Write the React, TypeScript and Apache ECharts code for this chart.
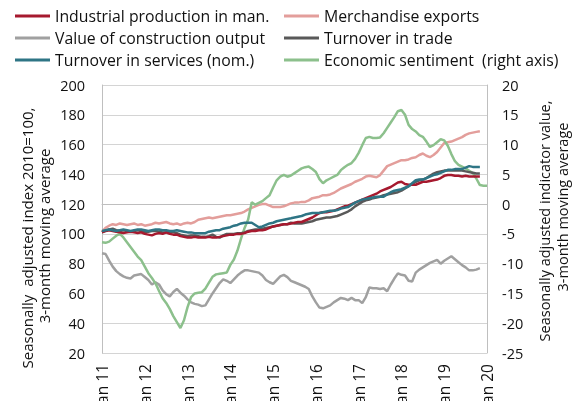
import React, { useEffect, useRef } from "react";
import * as echarts from "echarts";

const monthNames = ["Jan", "Feb", "Mar", "Apr", "May", "Jun", "Jul", "Aug", "Sep", "Oct", "Nov", "Dec"];
const years = ["11", "12", "13", "14", "15", "16", "17", "18", "19", "20"];

const industrial = [
  101, 102, 102.5, 102, 101.5, 101, 100.5, 101, 101.5, 101, 100.5, 101,
  100, 99.5, 99, 100, 100.5, 100, 101, 100, 99.5, 99.5, 98.5, 98,
  97.5, 97.5, 98, 97.5, 97.5, 97.5, 98, 97.5, 97.5, 98, 98.5, 99,
  99.5, 99.5, 100, 100, 100.5, 101.5, 102, 102, 102.5, 102.5, 103, 104,
  105, 105.5, 106, 106.5, 106.5, 107, 107.5, 108, 108, 109, 110, 111,
  112.5, 114, 114.5, 114.5, 115, 115.5, 116.5, 117.5, 118.5, 119, 120, 121,
  122, 123, 124, 125, 126, 127, 128.5, 129.5, 130.5, 131.5, 133, 134.5,
  135, 133.5, 133, 133, 133, 134, 135, 135, 135.5, 136, 136.5, 137.5,
  139, 139.5, 139.5, 139, 139, 138.5, 139, 138.5, 138.5, 138.5, 138.5,
];

const exportsIdx = [
  101.5, 104, 105.5, 106.5, 106, 107, 106.5, 106, 106.5, 107, 106, 106.5,
  105.5, 106, 106.5, 107.5, 107, 107.5, 108, 107, 106.5, 107, 106, 107,
  107.5, 107, 108, 109.5, 110, 110.5, 111, 110.5, 111, 111.5, 112, 112.5,
  112.5, 113, 113.5, 114, 115, 116.5, 117.5, 118.5, 119.5, 120, 120, 119,
  118, 118, 118, 118.5, 119.5, 120.5, 121, 121, 121.5, 121.5, 122.5, 124,
  124.5, 125, 126, 126, 126.5, 127.5, 129, 130.5, 131.5, 132.5, 133.5, 135,
  136, 137, 138.5, 139, 138.5, 138, 139.5, 142.5, 145.5, 146.5, 147.5, 148.5,
  149.5, 149.5, 150, 151, 151.5, 153, 154, 152.5, 151.5, 153, 155, 158,
  161, 161.5, 162, 163, 164, 165, 166.5, 167.5, 168, 168.5, 169,
];

const construction = [
  87, 86.5, 82, 78, 75, 73, 71.5, 70.5, 70, 72, 72.5, 73,
  71, 69, 66, 67.5, 66, 62, 59.5, 58, 61, 63, 60.5, 58.5,
  56, 54, 53, 52.5, 51.5, 52, 56, 60, 63.5, 67, 69.5, 68.5,
  67, 69.5, 72, 74, 75.5, 75.5, 75, 74.5, 74, 72, 69, 67.5,
  66.5, 69, 71.5, 72.5, 71, 68.5, 67.5, 66.5, 65.5, 64.5, 63, 58,
  54, 50.5, 50, 51, 52, 54, 55.5, 57, 56.5, 55.5, 57, 55.5,
  55.5, 53.5, 57.5, 64, 63.5, 63.5, 63, 63.5, 61.5, 66, 70, 73.5,
  72.5, 72, 68.5, 68, 74, 76, 77.5, 79, 80.5, 81.5, 82.5, 80,
  82, 83.5, 85, 83, 81, 79, 77.5, 75.5, 75.5, 76, 77,
];

const trade = [
  101, 102, 103, 103.5, 102.5, 102, 102.5, 102, 101.5, 102, 102.5, 102,
  101.5, 101.5, 102, 102, 101.5, 101, 101, 101.5, 101, 100.5, 99.5, 99,
  98.5, 99, 99, 98.5, 98, 98, 98.5, 99.5, 98, 97.5, 99, 100,
  100, 100, 100.5, 100.5, 101, 102, 102.5, 103, 103, 103.5, 104, 104.5,
  105, 105.5, 106, 106.5, 106.5, 107.5, 107, 107, 107, 107.5, 108, 108.5,
  109.5, 110, 110.5, 111, 111, 111.5, 112, 113, 114, 115, 116.5, 118.5,
  120, 121.5, 122.5, 123, 124, 124.5, 125, 126, 126.5, 127, 127.5, 128,
  129, 130.5, 132, 133.5, 135, 136, 136.5, 137.5, 139, 140.5, 141.5, 142,
  142.5, 142.5, 142.5, 142.5, 142.5, 142.5, 142, 141.5, 141, 140.5, 140.5,
];

const services = [
  102, 102.5, 103, 102.5, 102, 102.5, 103, 102.5, 102, 102.5, 103, 103,
  102.5, 102, 102.5, 103, 103, 102.5, 102.5, 102, 102, 102.5, 102, 101.5,
  101, 101, 100.5, 100.5, 100.5, 100.5, 101.5, 102, 102.5, 102.5, 103.5, 104,
  104.5, 105.5, 106, 107, 107.5, 107.5, 107.5, 106, 104.5, 105, 106, 107,
  107.5, 108.5, 109, 109.5, 110, 110.5, 111, 111.5, 112, 113, 113.5, 114,
  114, 114, 114.5, 115, 115.5, 115.5, 116, 117, 117.5, 118, 119.5, 121,
  122, 123, 123.5, 124, 124.5, 125, 125, 125, 126.5, 128, 129, 129.5,
  130, 131, 132, 134, 136, 136.5, 136.5, 137.5, 138.5, 139.5, 140, 141,
  142, 143, 143, 143.5, 143.5, 143.5, 144.5, 145.5, 145, 145, 145,
];

const sentiment = [
  -6.4, -6.5, -6.3, -5.8, -5.3, -5.0, -5.6, -6.4, -7.2, -8.0, -8.8, -9.4,
  -10.5, -11.6, -12.4, -13.3, -14.6, -15.8, -16.6, -17.6, -18.8, -19.8, -20.8, -19.5,
  -17.3, -15.6, -15.0, -14.9, -14.8, -14.2, -13.2, -12.2, -11.8, -11.7, -11.6, -11.5,
  -10.2, -9.3, -7.8, -5.8, -4.0, -2.6, 0.3, -0.1, 0.2, 0.5, 1.0, 1.5,
  2.8, 4.0, 4.6, 4.9, 4.6, 4.8, 5.2, 5.6, 6.0, 6.2, 6.3, 5.9,
  5.4, 4.2, 3.5, 4.0, 4.3, 4.6, 4.9, 5.7, 6.2, 6.6, 6.9, 7.6,
  8.6, 9.9, 11.1, 11.3, 11.1, 11.1, 11.2, 11.9, 12.8, 13.7, 14.6, 15.6,
  15.8, 15.0, 13.3, 12.6, 12.2, 11.6, 11.3, 10.5, 9.6, 9.9, 10.4, 10.9,
  10.7, 9.8, 8.4, 7.2, 6.6, 6.3, 6.0, 5.6, 5.2, 4.3, 3.2, 3.1, 3.1,
];

const categories: string[] = [];
years.forEach((y, i) => {
  monthNames.forEach((m, j) => {
    if (i < years.length - 1 || j === 0) categories.push(m + " " + y);
  });
});

const FONT = '"Open Sans", "Noto Sans", sans-serif';

export default function App() {
  const ref = useRef<HTMLDivElement>(null);
  useEffect(() => {
    if (!ref.current) return;
    const chart = echarts.init(ref.current, undefined, { renderer: "svg" });
    const lineSeries = (name: string, data: number[], color: string, yAxisIndex = 0) => ({
      name,
      type: "line",
      data,
      yAxisIndex,
      showSymbol: false,
      symbol: "none",
      lineStyle: { color, width: 2.5 },
      itemStyle: { color },
    });
    const legendCommon = {
      orient: "vertical",
      top: 8,
      itemWidth: 35,
      itemHeight: 3,
      icon: "rect",
      itemGap: 6,
      padding: 0,
      textStyle: { fontFamily: FONT, fontSize: 15.8, color: "#111", lineHeight: 16 },
    };
    chart.setOption({
      animation: false,
      textStyle: { fontFamily: FONT },
      grid: { left: 102, right: 96, top: 85, bottom: 48, containLabel: false, outerBoundsMode: "none" },
      legend: [
        {
          ...legendCommon,
          left: 15,
          data: ["Industrial production in man.", "Value of construction output", "Turnover in services (nom.)"],
        },
        {
          ...legendCommon,
          left: 284,
          data: ["Merchandise exports", "Turnover in trade", "Economic sentiment  (right axis)"],
        },
      ],
      xAxis: {
        type: "category",
        data: categories,
        boundaryGap: false,
        axisLine: { show: true, lineStyle: { color: "#bfbfbf", width: 1 } },
        axisTick: { show: false },
        axisLabel: {
          interval: 11,
          rotate: 90,
          margin: 11,
          fontSize: 15.5,
          fontFamily: FONT,
          color: "#111",
          hideOverlap: false,
        },
        splitLine: { show: false },
      },
      yAxis: [
        {
          type: "value",
          min: 20,
          max: 200,
          interval: 20,
          axisLine: { show: true, lineStyle: { color: "#bfbfbf", width: 1 } },
          axisTick: { show: false },
          axisLabel: { margin: 17, fontSize: 14.5, fontFamily: FONT, color: "#111" },
          splitLine: { show: true, lineStyle: { color: "#d4d4d4", width: 1 } },
        },
        {
          type: "value",
          min: -25,
          max: 20,
          interval: 5,
          position: "right",
          axisLine: { show: true, lineStyle: { color: "#bfbfbf", width: 1 } },
          axisTick: { show: false },
          axisLabel: { margin: 15, fontSize: 14.5, fontFamily: FONT, color: "#111" },
          splitLine: { show: false },
        },
      ],
      graphic: [
        {
          type: "text",
          x: 27,
          y: 238,
          rotation: Math.PI / 2,
          style: { text: "Seasonally  adjusted index 2010=100,", font: `15px ${FONT}`, fill: "#111", align: "center", verticalAlign: "middle" },
        },
        {
          type: "text",
          x: 44,
          y: 236,
          rotation: Math.PI / 2,
          style: { text: "3-month moving average", font: `15px ${FONT}`, fill: "#111", align: "center", verticalAlign: "middle" },
        },
        {
          type: "text",
          x: 544,
          y: 221,
          rotation: Math.PI / 2,
          style: { text: "Seasonally adjusted indicator value,", font: `14.5px ${FONT}`, fill: "#111", align: "center", verticalAlign: "middle" },
        },
        {
          type: "text",
          x: 562,
          y: 207,
          rotation: Math.PI / 2,
          style: { text: "3-month moving average", font: `14.5px ${FONT}`, fill: "#111", align: "center", verticalAlign: "middle" },
        },
      ],
      series: [
        lineSeries("Value of construction output", construction, "#a0a0a0"),
        lineSeries("Merchandise exports", exportsIdx, "#e39e9b"),
        lineSeries("Economic sentiment  (right axis)", sentiment, "#8cc08c", 1),
        lineSeries("Turnover in trade", trade, "#595959"),
        lineSeries("Industrial production in man.", industrial, "#a6192e"),
        lineSeries("Turnover in services (nom.)", services, "#2e7585"),
      ],
    });
    return () => chart.dispose();
  }, []);
  return <div ref={ref} style={{ position: "fixed", left: 0, top: 0, width: 583, height: 401 }} />;
}
